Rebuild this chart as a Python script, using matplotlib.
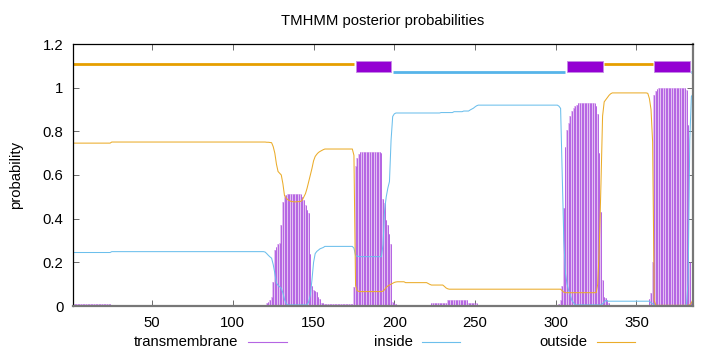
import numpy as np
import matplotlib
matplotlib.use('Agg')
import matplotlib.pyplot as plt
from matplotlib.lines import Line2D
from matplotlib.ticker import FormatStrFormatter

plt.rcParams['font.family'] = ['Liberation Sans', 'DejaVu Sans']
plt.rcParams['font.size'] = 10.7

# posterior probabilities per residue (1..385)
outside = ([0.746]*24 + [0.751]*95 +
           [0.751, 0.750, 0.750, 0.749, 0.748, 0.730, 0.700, 0.650, 0.616, 0.608,
            0.600, 0.560, 0.505, 0.495, 0.487, 0.483, 0.479, 0.478, 0.477, 0.477,
            0.478, 0.478, 0.479, 0.485, 0.500, 0.515, 0.540, 0.570, 0.600, 0.630,
            0.665, 0.685, 0.695, 0.703, 0.708, 0.712, 0.716] +
           [0.719]*18 + [0.690, 0.095, 0.070, 0.067] + [0.066]*14 +
           [0.068, 0.075, 0.085, 0.092, 0.096, 0.100, 0.104, 0.108, 0.110] +
           [0.111]*5 + [0.107]*14 + [0.103, 0.099] + [0.096]*8 +
           [0.090, 0.083, 0.079] + [0.077]*70 + [0.070, 0.063] + [0.061]*20 +
           [0.100, 0.280, 0.560, 0.870, 0.935, 0.945, 0.955, 0.965, 0.972] +
           [0.976]*22 + [0.974, 0.950, 0.900, 0.750, 0.025] + [0.003]*21 +
           [0.005, 0.015, 0.030])

inside = ([0.245]*24 + [0.249]*95 +
          [0.247, 0.240, 0.232, 0.225, 0.219, 0.190, 0.150, 0.105, 0.095, 0.088,
           0.081, 0.060, 0.030, 0.012, 0.005, 0.005, 0.005, 0.005, 0.005, 0.005,
           0.005, 0.005, 0.005, 0.005, 0.005, 0.005, 0.005, 0.020, 0.050, 0.120,
           0.200, 0.240, 0.250, 0.256, 0.262, 0.265, 0.268] +
          [0.273]*18 + [0.265, 0.232, 0.228, 0.227] + [0.226]*14 +
          [0.280, 0.440, 0.500, 0.540, 0.570, 0.760, 0.868, 0.880, 0.884] +
          [0.884]*27 + [0.886]*8 + [0.890]*6 + [0.893]*4 +
          [0.898, 0.902, 0.906, 0.912, 0.917] + [0.920]*50 +
          [0.915, 0.905, 0.600, 0.300, 0.150, 0.100, 0.070, 0.050, 0.025, 0.015] +
          [0.005]*17 + [0.010, 0.018, 0.026] + [0.022]*27 + [0.015, 0.010, 0.005] +
          [0.002]*19 + [0.008, 0.120, 0.760, 0.960, 0.970])

tm = ([0.008]*24 + [0.001]*55 + [0.003]*40 +
      [0.005, 0.012, 0.020, 0.028, 0.040, 0.110, 0.257, 0.270, 0.285, 0.290,
       0.370, 0.478, 0.500, 0.508, 0.512, 0.512, 0.513, 0.513, 0.513, 0.512,
       0.512, 0.512, 0.512, 0.500, 0.486, 0.463, 0.440, 0.425, 0.240, 0.090,
       0.073, 0.068, 0.065, 0.040, 0.030, 0.015, 0.012] +
      [0.008]*18 + [0.085, 0.640, 0.680, 0.697] + [0.705]*13 + [0.700] +
      [0.490, 0.470, 0.394, 0.370, 0.330, 0.285, 0.020, 0.012, 0.010] +
      [0.005]*21 + [0.012]*10 + [0.028]*13 + [0.015]*6 + [0.001]*49 +
      [0.003, 0.010, 0.028, 0.090, 0.450, 0.730, 0.807, 0.840, 0.868, 0.891,
       0.905, 0.914, 0.922] +
      [0.930]*10 +
      [0.928, 0.918, 0.880, 0.700, 0.430, 0.120, 0.043, 0.035, 0.028, 0.015] +
      [0.003]*24 + [0.030, 0.058, 0.200, 0.965, 0.985, 0.993] + [0.998]*17 +
      [0.990, 0.830, 0.200, 0.020, 0.030])

residue = np.arange(1, len(tm) + 1)

# predicted topology (start, end)
seg_outside = [(1, 175), (330, 360)]
seg_inside = [(199, 306), (384, 385)]
seg_tm = [(176, 198), (307, 329), (361, 383)]

c_tm = '#9400d3'
c_in = '#56b4e9'
c_out = '#e69f00'

fig = plt.figure(figsize=(7.2, 3.52), dpi=100)
ax = fig.add_axes([73/720, 1 - 306/352, 620/720, 262/352])

ax.bar(residue, tm, width=1.0, color='#e3c0f2', linewidth=0)
ax.vlines(residue, 0, tm, color='#b565e3', lw=0.7)
ax.plot(residue, inside, color='#6cbfec', lw=0.75)
ax.plot(residue, outside, color='#ebac2a', lw=0.75)

for a, b in seg_outside:
    ax.plot([a, b], [1.11, 1.11], color=c_out, lw=2.0, solid_capstyle='butt')
for a, b in seg_inside:
    ax.plot([a, b], [1.07, 1.07], color=c_in, lw=2.0, solid_capstyle='butt')
for a, b in seg_tm:
    ax.add_patch(plt.Rectangle((a, 1.07), b - a, 0.05, facecolor=c_tm,
                               edgecolor='#c58ae6', lw=0.6))

ax.set_xlim(1, 385)
ax.set_ylim(0, 1.2)
ax.set_xticks([50, 100, 150, 200, 250, 300, 350])
ax.set_yticks([0, 0.2, 0.4, 0.6, 0.8, 1.0, 1.2])
ax.yaxis.set_major_formatter(FormatStrFormatter('%g'))
ax.tick_params(direction='in', length=4, width=0.6, color='#555555',
               top=True, right=True, labelsize=10.7)
ax.tick_params(axis='y', pad=7)
ax.tick_params(axis='x', pad=7)
for s in ['left', 'top']:
    ax.spines[s].set_linewidth(0.9)
    ax.spines[s].set_color('black')
for s in ['bottom', 'right']:
    ax.spines[s].set_linewidth(1.6)
    ax.spines[s].set_color('#777777')

ax.set_ylabel('probability', labelpad=14)
fig.text(383/720, 1 - 21.5/352, 'TMHMM posterior probabilities',
         ha='center', va='center', fontsize=10.7)

# legend along the bottom, gnuplot style (text, then sample)
ly = 1 - 341.5/352
for name, col, xr, x0, x1 in [('transmembrane', '#b565e3', 238, 248, 287),
                              ('inside', '#6cbfec', 413, 422, 460),
                              ('outside', '#ebac2a', 587, 597, 635)]:
    fig.text(xr/720, ly, name, ha='right', va='center', fontsize=10.7)
    fig.add_artist(Line2D([x0/720, x1/720], [ly, ly], color=col, lw=0.8))

fig.savefig('out.png', dpi=100)
